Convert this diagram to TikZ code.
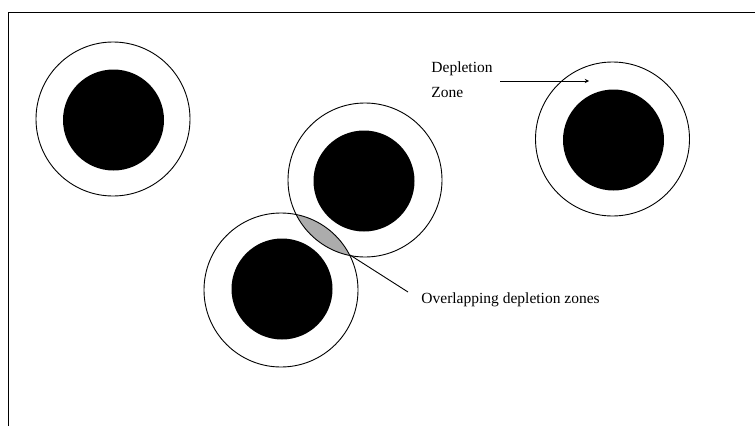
\documentclass[tikz,border=0pt]{standalone}
\usepackage{fontspec}
\setmainfont{Liberation Serif}

\begin{document}
\begin{tikzpicture}[x=1pt,y=-1pt,line width=0.9pt,
  zone/.style={circle,draw,inner sep=0pt,minimum size=154pt},
  core/.style={circle,fill=black,inner sep=0pt,minimum size=101pt},
  lbl/.style={font=\fontsize{15.5}{24.5}\selectfont,inner sep=0pt}]
\useasboundingbox (0,0) rectangle (755,426);
\draw (8,426)--(8,12)--(755,12);

 % overlap of the two middle zones
 \begin{scope}
  \clip (365,180) circle (77pt);
  \fill[gray!65] (281,290) circle (77pt);
 \end{scope}

 \node[zone] (zoneA) at (113,119) {};
 \node[core] (coreA) at (113.5,120) {};
 \node[zone] (zoneB) at (365,180) {};
 \node[core] (coreB) at (364,181) {};
 \node[zone] (zoneC) at (281,290) {};
 \node[core] (coreC) at (282,289) {};
 \node[zone] (zoneD) at (612.5,139) {};
 \node[core] (coreD) at (613.5,140) {};

 \node[lbl,anchor=base west,align=left] (deplbl) at (431,97) {Depletion\\Zone};
 \coordinate (arrtail) at (500,81);
 \coordinate (arrtip) at (589,81);
 \draw[-stealth] (arrtail)--(arrtip);

 \coordinate (ovl) at (350,255);
 \coordinate (leadend) at (408,292);
 \node[lbl,anchor=base west] (ovllbl) at (421,303) {Overlapping depletion zones};
 \draw (ovl)--(leadend);
\end{tikzpicture}
\end{document}
